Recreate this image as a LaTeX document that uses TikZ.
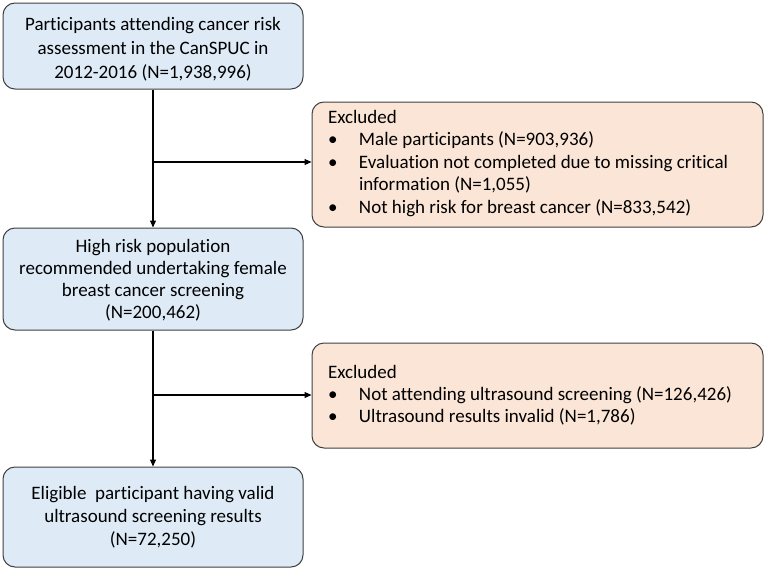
\documentclass[tikz,border=0pt]{standalone}
\usepackage{fontspec}
\setmainfont[Ligatures=NoCommon]{Carlito}
\usepackage{tikz}
\usetikzlibrary{arrows.meta, positioning, calc}
\definecolor{boxblue}{RGB}{222,235,247}
\definecolor{boxpeach}{RGB}{251,229,214}
\definecolor{boxline}{RGB}{64,64,64}
% box text: height, first baseline, lines
\newcommand{\mainlines}[3]{\parbox[c][#1][t]{284pt}{\centering\rule{0pt}{#2}#3}}
\newcommand{\excllines}[3]{\parbox[c][#1][t]{419pt}{\rule{0pt}{#2}#3}}
\newcommand{\bitem}[1]{\makebox[31pt][l]{\textbullet}#1}
\newcommand{\bcont}[1]{\hspace*{31pt}#1}
\tikzset{
  mainbox/.style={rectangle, draw=boxline, fill=boxblue,
    inner xsep=8pt, inner ysep=0pt,
    font=\fontsize{19}{23}\selectfont,
    rounded corners=12pt, line width=1pt},
  exclbox/.style={rectangle, draw=boxline, fill=boxpeach,
    inner xsep=16pt, inner ysep=0pt,
    font=\fontsize{19}{22.5}\selectfont,
    rounded corners=12pt, line width=1pt},
  arrow/.style={-{Triangle[length=7pt,width=6pt]}, line width=1.1pt, color=black},
  line/.style={line width=1.1pt, color=black}
}

\begin{document}
\begin{tikzpicture}[x=1pt, y=-1pt]
  \useasboundingbox (0,0) rectangle (765,570);
  % main flow
  \node[mainbox, font=\fontsize{19}{24}\selectfont] (cohort) at (153,46)
       {\mainlines{86pt}{27pt}{Participants attending cancer risk\\
        assessment in the CanSPUC in\\2012-2016 (N=1,938,996)}};
  \node[mainbox, font=\fontsize{19}{22}\selectfont] (highrisk) at (153,279)
       {\mainlines{102pt}{24pt}{High risk population\\
        recommended undertaking female\\breast cancer screening\\(N=200,462)}};
  \node[mainbox] (eligible) at (153,517)
       {\mainlines{100pt}{32pt}{Eligible\ \ participant having valid\\
        ultrasound screening results\\(N=72,250)}};
  % exclusions
  \node[exclbox] (excla) at (537.5,164.5)
       {\excllines{125pt}{21pt}{Excluded\\
        \bitem{Male participants (N=903,936)}\\
        \bitem{Evaluation not completed due to missing critical}\\
        \bcont{information (N=1,055)}\\
        \bitem{Not high risk for breast cancer (N=833,542)}}};
  \node[exclbox, font=\fontsize{19}{22}\selectfont] (exclb) at (537.5,395.5)
       {\excllines{105pt}{35pt}{Excluded\\
        \bitem{Not attending ultrasound screening (N=126,426)}\\
        \bitem{Ultrasound results invalid (N=1,786)}}};
  % connectors
  \coordinate (ja) at (cohort.south |- 0,162);
  \coordinate (jb) at (highrisk.south |- 0,395);
  \draw[arrow] (cohort) -- (highrisk);
  \draw[arrow] (highrisk) -- (eligible);
  \draw[arrow] (ja) -- (ja -| excla.west);
  \draw[arrow] (jb) -- (jb -| exclb.west);
\end{tikzpicture}
\end{document}
